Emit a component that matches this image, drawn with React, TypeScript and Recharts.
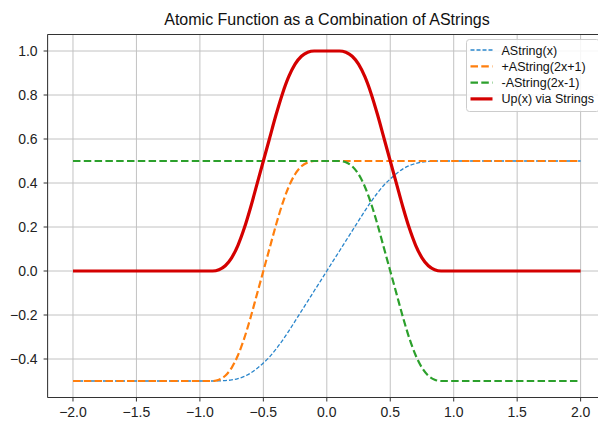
import React from "react";
import { LineChart, Line, XAxis, YAxis, CartesianGrid, ReferenceLine } from "recharts";

// sample positions along x
const xs = [
  -2, -1.5, -1, -0.95, -0.9, -0.85, -0.8, -0.75, -0.7, -0.65, -0.6, -0.55, -0.5, -0.45, -0.4,
  -0.35, -0.3, -0.25, -0.2, -0.15, -0.1, -0.05, 0, 0.05, 0.1, 0.15, 0.2, 0.25, 0.3, 0.35, 0.4,
  0.45, 0.5, 0.55, 0.6, 0.65, 0.7, 0.75, 0.8, 0.85, 0.9, 0.95, 1, 1.5, 2,
];

const aString = [
  -0.5, -0.5, -0.5, -0.5, -0.5, -0.4995, -0.498, -0.495, -0.489, -0.479, -0.464, -0.443, -0.418,
  -0.39, -0.355, -0.316, -0.273, -0.228, -0.182, -0.137, -0.091, -0.046, 0, 0.046, 0.091, 0.137,
  0.182, 0.228, 0.273, 0.316, 0.355, 0.39, 0.418, 0.443, 0.464, 0.479, 0.489, 0.495, 0.498,
  0.4995, 0.5, 0.5, 0.5, 0.5, 0.5,
];

const aPlus = [
  -0.5, -0.5, -0.5, -0.5, -0.5, -0.494, -0.476, -0.44, -0.383, -0.305, -0.21, -0.105, 0, 0.105,
  0.21, 0.305, 0.383, 0.44, 0.476, 0.494, 0.5, 0.5, 0.5, 0.5, 0.5, 0.5, 0.5, 0.5, 0.5, 0.5, 0.5,
  0.5, 0.5, 0.5, 0.5, 0.5, 0.5, 0.5, 0.5, 0.5, 0.5, 0.5, 0.5, 0.5, 0.5,
];

const aMinus = [
  0.5, 0.5, 0.5, 0.5, 0.5, 0.5, 0.5, 0.5, 0.5, 0.5, 0.5, 0.5, 0.5, 0.5, 0.5, 0.5, 0.5, 0.5, 0.5,
  0.5, 0.5, 0.5, 0.5, 0.5, 0.5, 0.494, 0.476, 0.44, 0.383, 0.305, 0.21, 0.105, 0, -0.105, -0.21,
  -0.305, -0.383, -0.44, -0.476, -0.494, -0.5, -0.5, -0.5, -0.5, -0.5,
];

const upVals = [
  0, 0, 0, 0, 0, 0.006, 0.024, 0.06, 0.117, 0.195, 0.29, 0.395, 0.5, 0.605, 0.71, 0.805, 0.883,
  0.94, 0.976, 0.994, 1, 1, 1, 1, 1, 0.994, 0.976, 0.94, 0.883, 0.805, 0.71, 0.605, 0.5, 0.395,
  0.29, 0.195, 0.117, 0.06, 0.024, 0.006, 0, 0, 0, 0, 0,
];

const xTicks = [-2, -1.5, -1, -0.5, 0, 0.5, 1, 1.5, 2];
const yTicks = [-0.4, -0.2, 0, 0.2, 0.4, 0.6, 0.8, 1.0];

const X_DOMAIN: [number, number] = [-2.2, 2.2];
const Y_DOMAIN: [number, number] = [-0.575, 1.075];

const data = xs.map((x, i) => ({
  x,
  aString: aString[i],
  aPlus: aPlus[i],
  aMinus: aMinus[i],
  up: upVals[i],
}));

const series = [
  { key: "aString", label: "AString(x)", color: "#2a86cc", width: 1.3, dash: "4 2" },
  { key: "aPlus", label: "+AString(2x+1)", color: "#ff7f0e", width: 2.2, dash: "7.5 3.3" },
  { key: "aMinus", label: "-AString(2x-1)", color: "#2ca02c", width: 2.2, dash: "7.5 3.3" },
  { key: "up", label: "Up(x) via Strings", color: "#d40000", width: 3.2, dash: undefined },
];

const FONT = "'Liberation Sans', Arial, Helvetica, sans-serif";
const AXIS = "#333";

// matplotlib-style labels with a real minus sign
const fmt = (v: number) => v.toFixed(1).replace("-", "\u2212");

export default function App() {
  return (
    <div
      style={{
        position: "absolute",
        left: 0,
        top: 0,
        width: 598,
        height: 421,
        overflow: "hidden",
        background: "#fff",
        fontFamily: FONT,
      }}
    >
      <LineChart
        width={620}
        height={421}
        data={data}
        margin={{ top: 34.5, right: 14, bottom: 3.5, left: 7.6 }}
        style={{ fontFamily: FONT }}
      >
        <CartesianGrid stroke="#c2c2c2" strokeWidth={1} />
        <XAxis
          dataKey="x"
          type="number"
          domain={X_DOMAIN}
          ticks={xTicks}
          allowDataOverflow
          height={20}
          tickSize={4}
          tickMargin={6}
          tickFormatter={fmt}
          tick={{ fontSize: 14, fill: "#222" }}
          axisLine={{ stroke: AXIS, strokeWidth: 1 }}
          tickLine={{ stroke: AXIS }}
        />
        <YAxis
          type="number"
          domain={Y_DOMAIN}
          ticks={yTicks}
          allowDataOverflow
          width={40}
          tickSize={4}
          tickMargin={6}
          tickFormatter={fmt}
          tick={{ fontSize: 14, fill: "#222" }}
          axisLine={{ stroke: AXIS, strokeWidth: 1 }}
          tickLine={{ stroke: AXIS }}
        />
        <ReferenceLine y={Y_DOMAIN[1]} stroke={AXIS} strokeWidth={1} ifOverflow="visible" />
        {series.map((s) => (
          <Line
            key={s.key}
            dataKey={s.key}
            type="monotone"
            stroke={s.color}
            strokeWidth={s.width}
            strokeDasharray={s.dash}
            dot={false}
            activeDot={false}
            isAnimationActive={false}
          />
        ))}
      </LineChart>

      {/* title and legend drawn on top */}
      <svg
        width={598}
        height={421}
        style={{ position: "absolute", left: 0, top: 0, pointerEvents: "none" }}
      >
        <text x={327} y={25} textAnchor="middle" fontSize={16} fill="#111" fontFamily={FONT}>
          Atomic Function as a Combination of AStrings
        </text>
        <rect
          x={466.5}
          y={39.5}
          width={133}
          height={72}
          rx={3}
          fill="#fff"
          fillOpacity={0.85}
          stroke="#cccccc"
        />
        {series.map((s, i) => {
          const cy = 50 + i * 16.3;
          return (
            <g key={s.key}>
              <line
                x1={470.5}
                x2={492.5}
                y1={cy}
                y2={cy}
                stroke={s.color}
                strokeWidth={s.width}
                strokeDasharray={s.dash}
              />
              <text x={501.5} y={cy + 4.5} fontSize={12.5} fill="#111" fontFamily={FONT}>
                {s.label}
              </text>
            </g>
          );
        })}
      </svg>
    </div>
  );
}
